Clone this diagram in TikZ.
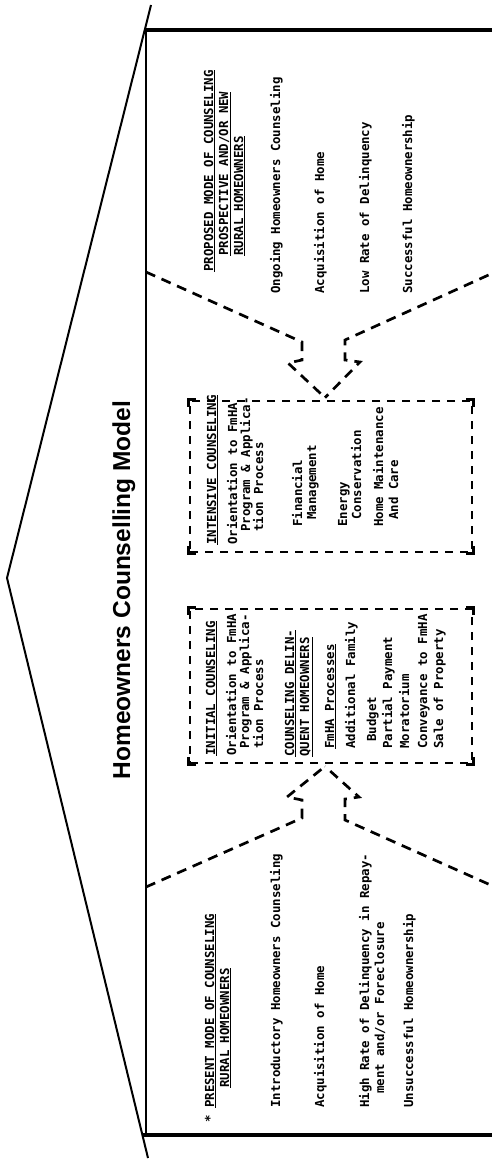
\documentclass[tikz,border=0pt]{standalone}
\usepackage{fontspec}
\usetikzlibrary{calc}
\newfontfamily\typefont{DejaVu Sans Mono}
\newfontfamily\titlefont{Liberation Sans}
\tikzset{
	wall/.style   ={line width=2pt},
	floor/.style  ={line width=4pt},
	funnel/.style ={line width=2.7pt, dash pattern=on 10pt off 7pt},
	dbox/.style   ={rectangle, draw, line width=2.7pt, dash pattern=on 8pt off 7pt, inner sep=0pt},
	corner/.style ={line width=2.7pt},
	txt/.style    ={rotate=90, anchor=base west, inner sep=0pt, font=\typefont\bfseries\fontsize{12.4}{14}\selectfont},
	ttl/.style    ={rotate=90, anchor=base, inner sep=0pt, font=\titlefont\bfseries\fontsize{24.5}{28}\selectfont},
}

\begin{document}
\begin{tikzpicture}[x=1pt, y=-1pt]
\useasboundingbox (0,0) rectangle (491,1159);
% house outline
\coordinate (apex) at (7,578);
\coordinate (eaveT) at (146,30);
\coordinate (eaveB) at (143,1135);
\draw[wall] (151,5) -- (apex) -- (148,1158);
\draw[wall] (eaveT) -- (146,1135);
\draw[floor] (eaveT) -- (504,30);
\draw[floor] (eaveB) -- (504,1135);
\node[ttl] (title) at (130,590) {Homeowners Counselling Model};

% counseling boxes
\node[dbox, minimum width=282pt, minimum height=151pt] (intensive) at (331,476.5) {};
\node[dbox, minimum width=282pt, minimum height=154pt] (initial) at (331,686) {};
\foreach \b in {intensive, initial} {
	\draw[corner] ($(\b.north west)+(0,7)$) -- (\b.north west) -- ($(\b.north west)+(7,0)$);
	\draw[corner] ($(\b.north east)+(-7,0)$) -- (\b.north east) -- ($(\b.north east)+(0,7)$);
	\draw[corner] ($(\b.south west)+(0,-7)$) -- (\b.south west) -- ($(\b.south west)+(7,0)$);
	\draw[corner] ($(\b.south east)+(-7,0)$) -- (\b.south east) -- ($(\b.south east)+(0,-7)$);
}

% dashed funnels
\coordinate (tipI) at ($(intensive.north)+(-6,-2)$);
\coordinate (tipN) at ($(initial.south)+(-6,2)$);
\draw[funnel] (146,272) -- (302,342) -- (302,360) -- (288,363) -- (tipI);
\draw[funnel] (504,268) -- (345,340) -- (345,360) -- (360,362) -- (tipI);
\draw[funnel] (146,887) -- (302,818) -- (302,800) -- (287,797) -- (tipN);
\draw[funnel] (504,891) -- (345,820) -- (345,799) -- (359,797) -- (tipN);

% proposed mode
\node[txt] (prop1) at (213,272) {\underline{PROPOSED MODE OF COUNSELING}};
\node[txt] (prop2) at (228,256) {\underline{PROSPECTIVE AND/OR NEW}};
\node[txt] (prop3) at (243,256) {\underline{RURAL HOMEOWNERS}};
\node[txt] (prop4) at (280,294) {Ongoing Homeowners Counseling};
\node[txt] (prop5) at (324,294) {Acquisition of Home};
\node[txt] (prop6) at (369,294) {Low Rate of Delinquency};
\node[txt] (prop7) at (412,294) {Successful Homeownership};

% intensive counseling
\node[txt] (int1) at (216,545) {\underline{INTENSIVE COUNSELING}};
\node[txt] (int2) at (237,545) {Orientation to FmHA};
\node[txt] (int3) at (250,532) {Program \& Applica-};
\node[txt] (int4) at (263,532) {tion Process};
\node[txt] (int5) at (302,527) {Financial};
\node[txt] (int6) at (316,520) {Management};
\node[txt] (int7) at (347,527) {Energy};
\node[txt] (int8) at (361,520) {Conservation};
\node[txt] (int9) at (383,527) {Home Maintenance};
\node[txt] (int10) at (398,520) {And Care};

% initial counseling
\node[txt] (ini1) at (215,756) {\underline{INITIAL COUNSELING}};
\node[txt] (ini2) at (236,756) {Orientation to FmHA};
\node[txt] (ini3) at (249,749) {Program \& Applica-};
\node[txt] (ini4) at (263,749) {tion Process};
\node[txt] (ini5) at (294,757) {\underline{COUNSELING DELIN-}};
\node[txt] (ini6) at (309,757) {\underline{QUENT HOMEOWNERS}};
\node[txt] (ini7) at (334,749) {\underline{FmHA Processes}};
\node[txt] (ini8) at (355,749) {Additional Family};
\node[txt] (ini9) at (376,742) {Budget};
\node[txt] (ini10) at (392,749) {Partial Payment};
\node[txt] (ini11) at (409,749) {Moratorium};
\node[txt] (ini12) at (427,749) {Conveyance to FmHA};
\node[txt] (ini13) at (443,749) {Sale of Property};

% present mode
\node[txt] (pres1) at (214,1123) {* \underline{PRESENT MODE OF COUNSELING}};
\node[txt] (pres2) at (229,1088) {\underline{RURAL HOMEOWNERS}};
\node[txt] (pres3) at (280,1108) {Introductory Homeowners Counseling};
\node[txt] (pres4) at (324,1108) {Acquisition of Home};
\node[txt] (pres5) at (369,1108) {High Rate of Delinquency in Repay-};
\node[txt] (pres6) at (384,1094) {ment and/or Foreclosure};
\node[txt] (pres7) at (413,1108) {Unsuccessful Homeownership};
\end{tikzpicture}
\end{document}
